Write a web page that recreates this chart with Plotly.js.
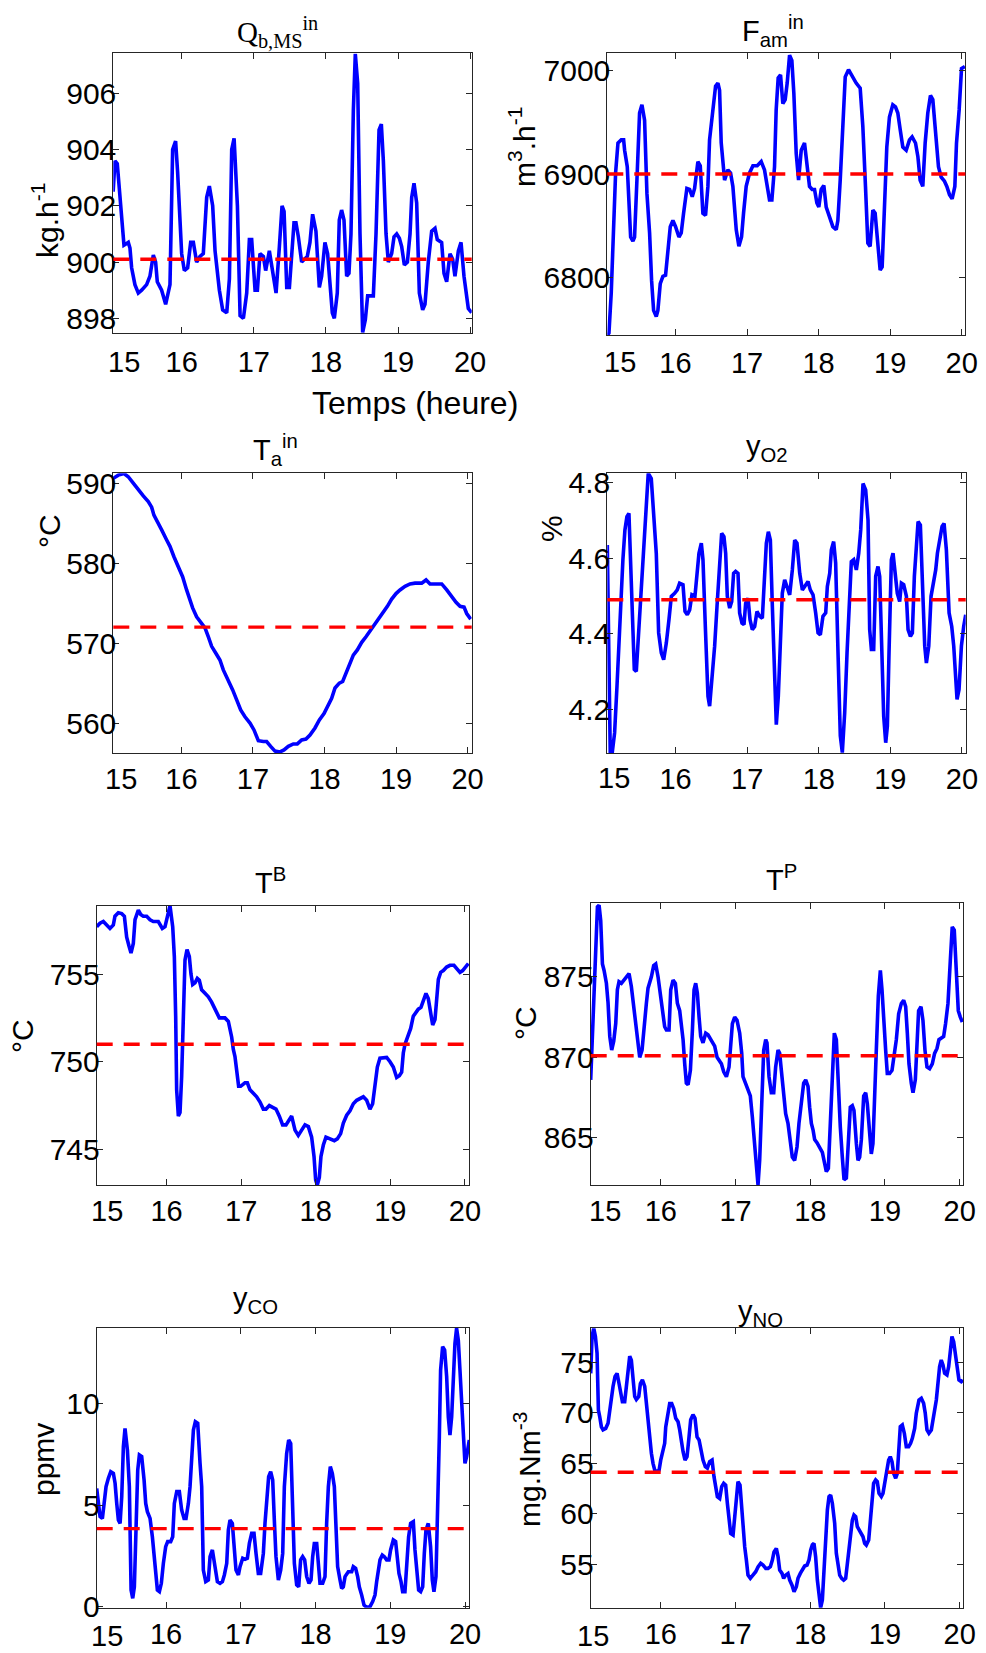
<!DOCTYPE html>
<html><head><meta charset="utf-8">
<script src="https://cdn.plot.ly/plotly-3.0.1.min.js"></script>
<style>html,body{margin:0;padding:0;background:#fff}#chart{width:986px;height:1653px}</style>
</head><body><div id="chart"></div>
<script>
// ---------- DATA (hours, values) ----------
const qbTime = [15.05,15.075,15.107,15.167,15.181,15.2,15.26,15.283,15.306,15.352,15.399,15.445,15.514,15.56,15.607,15.639,15.662,15.722,15.778,15.838,15.875,15.916,15.944,16.0,16.037,16.083,16.125,16.162,16.208,16.254,16.3,16.347,16.384,16.43,16.463,16.523,16.569,16.625,16.662,16.694,16.727,16.773,16.81,16.856,16.902,16.939,16.971,17.018,17.05,17.086,17.133,17.165,17.216,17.272,17.309,17.355,17.392,17.42,17.457,17.494,17.526,17.558,17.585,17.618,17.664,17.696,17.742,17.779,17.816,17.862,17.909,17.941,17.987,18.024,18.057,18.089,18.117,18.158,18.186,18.218,18.251,18.288,18.32,18.348,18.381,18.408,18.441,18.473,18.51,18.547,18.579,18.621,18.658,18.695,18.737,18.769,18.797,18.834,18.866,18.912,18.945,18.982,19.019,19.051,19.088,19.13,19.167,19.19,19.222,19.259,19.296,19.342,19.374,19.42,19.467,19.513,19.545,19.605,19.638,19.675,19.721,19.758,19.79,19.837,19.874,19.915,19.952,19.975,20.021];
const qbValue = [902.5,903.6,903.5,901.7,901.0,900.6,900.7,900.5,899.8,899.2,898.9,899.0,899.2,899.5,900.25,900.0,899.3,899.0,898.5,899.2,904.0,904.3,903.2,900.3,899.7,899.8,900.7,900.7,900.0,900.2,900.3,902.3,902.7,902.0,900.4,899.0,898.3,898.2,899.4,904.0,904.4,902.0,898.1,898.0,898.9,900.8,900.8,899.0,899.0,900.3,900.2,899.7,900.4,899.4,898.9,900.55,902.0,901.8,899.1,899.1,900.3,901.4,901.4,900.9,900.0,900.1,900.2,900.7,901.7,901.1,899.1,899.5,900.7,900.3,899.4,898.2,898.0,898.9,901.5,901.85,901.5,899.5,899.6,901.0,905.4,907.4,906.35,901.0,897.5,897.95,898.8,898.8,898.8,901.0,904.7,904.9,903.6,901.0,900.0,900.3,900.9,901.0,900.85,900.55,899.9,900.0,901.0,902.3,902.8,902.1,898.9,898.3,898.5,900.0,901.1,901.2,900.8,900.7,899.6,899.3,900.3,900.1,899.5,900.4,900.7,899.5,898.9,898.35,898.2];
const qbSetpoint = 900.1;

const famTime = [15.047,15.07,15.102,15.135,15.163,15.196,15.242,15.275,15.289,15.326,15.349,15.373,15.405,15.428,15.461,15.498,15.531,15.568,15.601,15.638,15.666,15.694,15.731,15.754,15.787,15.824,15.861,15.894,15.927,15.964,16.001,16.048,16.08,16.113,16.159,16.197,16.234,16.267,16.313,16.346,16.383,16.42,16.453,16.476,16.523,16.56,16.593,16.616,16.639,16.686,16.732,16.77,16.802,16.849,16.886,16.923,16.951,16.988,17.035,17.082,17.142,17.198,17.244,17.277,17.314,17.347,17.384,17.407,17.435,17.468,17.5,17.533,17.561,17.594,17.626,17.654,17.687,17.72,17.757,17.803,17.836,17.873,17.91,17.943,17.976,18.003,18.036,18.073,18.106,18.152,18.199,18.246,18.269,18.302,18.339,18.372,18.418,18.469,18.525,18.581,18.618,18.655,18.688,18.72,18.758,18.79,18.827,18.86,18.888,18.921,18.953,18.99,19.037,19.074,19.107,19.14,19.177,19.224,19.27,19.307,19.354,19.387,19.419,19.456,19.489,19.526,19.563,19.596,19.633,19.675,19.713,19.759,19.792,19.829,19.866,19.904,19.927,19.964,19.997,20.044];
const famValue = [6744,6746,6785,6843,6901,6930,6933,6933,6923,6907,6875,6839,6835,6839,6894,6959,6967,6952,6881,6843,6797,6768,6762,6768,6794,6801,6802,6823,6849,6855,6849,6839,6843,6862,6886,6885,6878,6886,6912,6908,6862,6860,6888,6933,6959,6985,6988,6981,6930,6894,6904,6901,6888,6846,6830,6839,6862,6888,6901,6908,6908,6912,6904,6891,6875,6875,6907,6962,6993,6996,6968,6972,6988,7015,7010,6978,6920,6894,6923,6930,6907,6888,6885,6885,6872,6868,6885,6889,6868,6859,6849,6846,6855,6894,6955,6994,7001,6994,6988,6983,6946,6888,6833,6830,6865,6862,6836,6807,6810,6862,6926,6955,6967,6965,6959,6943,6926,6923,6933,6936,6930,6917,6894,6888,6930,6959,6976,6972,6943,6907,6897,6893,6888,6880,6876,6888,6930,6962,7002,7004];
const famSetpoint = 6900;

const taTime = [15.047,15.117,15.196,15.256,15.326,15.396,15.466,15.536,15.583,15.615,15.662,15.723,15.793,15.839,15.895,15.956,16.016,16.072,16.119,16.156,16.212,16.282,16.329,16.375,16.422,16.483,16.538,16.585,16.655,16.716,16.772,16.828,16.888,16.958,17.014,17.075,17.145,17.191,17.247,17.308,17.378,17.434,17.494,17.564,17.62,17.681,17.741,17.797,17.867,17.928,17.993,18.054,18.1,18.147,18.207,18.254,18.301,18.357,18.403,18.459,18.52,18.58,18.646,18.706,18.767,18.823,18.879,18.939,19.0,19.056,19.126,19.196,19.266,19.359,19.42,19.476,19.545,19.639,19.709,19.779,19.839,19.895,19.951,19.988,20.044];
const taValue = [590.7,591.1,591.3,590.9,590.1,589.25,588.5,587.8,587.1,586.1,585.2,584.25,583.0,582.2,580.9,579.7,578.4,576.75,575.5,574.5,573.4,572.6,572.0,570.9,569.7,568.8,568.0,566.75,565.5,564.25,563.0,561.75,560.9,560.1,559.25,557.9,557.8,557.8,557.2,556.6,556.5,556.75,557.2,557.5,557.5,558.0,558.1,558.6,559.5,560.5,561.3,562.4,563.2,564.5,565.1,565.3,566.3,567.6,568.6,569.25,570.2,570.9,571.75,572.5,573.2,573.9,574.7,575.6,576.3,576.75,577.2,577.5,577.6,577.6,578.0,577.5,577.5,577.5,576.75,575.9,575.2,574.7,574.6,573.8,573.1];
const taSetpoint = 572.1;

const o2Time = [15.047,15.065,15.088,15.116,15.149,15.182,15.21,15.242,15.265,15.293,15.321,15.349,15.368,15.396,15.424,15.452,15.484,15.522,15.554,15.591,15.619,15.661,15.694,15.731,15.764,15.801,15.834,15.871,15.908,15.941,15.987,16.024,16.057,16.104,16.132,16.164,16.197,16.229,16.271,16.299,16.327,16.36,16.383,16.416,16.453,16.476,16.509,16.546,16.579,16.616,16.644,16.676,16.7,16.723,16.756,16.784,16.811,16.839,16.872,16.895,16.928,16.956,16.979,17.012,17.04,17.072,17.105,17.137,17.175,17.212,17.24,17.268,17.296,17.324,17.352,17.38,17.407,17.435,17.463,17.491,17.524,17.556,17.594,17.631,17.664,17.696,17.734,17.771,17.808,17.85,17.882,17.92,17.957,17.99,18.022,18.059,18.097,18.12,18.153,18.176,18.208,18.236,18.269,18.301,18.329,18.362,18.395,18.432,18.455,18.488,18.525,18.558,18.586,18.618,18.655,18.688,18.711,18.735,18.767,18.795,18.827,18.851,18.879,18.907,18.935,18.958,18.981,19.014,19.037,19.065,19.097,19.13,19.154,19.186,19.224,19.247,19.28,19.307,19.335,19.363,19.387,19.419,19.456,19.48,19.503,19.536,19.568,19.605,19.633,19.657,19.689,19.722,19.75,19.782,19.82,19.857,19.885,19.908,19.931,19.959,19.992,20.024,20.052];
const o2Value = [4.635,4.437,4.085,4.085,4.137,4.26,4.393,4.49,4.596,4.675,4.71,4.719,4.622,4.472,4.305,4.3,4.402,4.552,4.63,4.737,4.825,4.811,4.719,4.613,4.402,4.349,4.331,4.375,4.437,4.499,4.507,4.516,4.534,4.53,4.459,4.45,4.463,4.503,4.499,4.569,4.613,4.64,4.596,4.419,4.234,4.208,4.278,4.367,4.472,4.569,4.666,4.657,4.613,4.499,4.468,4.485,4.56,4.565,4.56,4.455,4.428,4.424,4.481,4.494,4.437,4.411,4.419,4.459,4.446,4.441,4.525,4.64,4.67,4.648,4.472,4.278,4.159,4.234,4.402,4.507,4.543,4.525,4.503,4.569,4.648,4.64,4.56,4.516,4.525,4.538,4.516,4.503,4.455,4.402,4.397,4.446,4.455,4.525,4.56,4.622,4.644,4.587,4.349,4.129,4.085,4.19,4.349,4.525,4.591,4.596,4.569,4.613,4.675,4.798,4.781,4.701,4.411,4.358,4.358,4.552,4.578,4.552,4.349,4.181,4.111,4.155,4.349,4.596,4.613,4.552,4.507,4.485,4.534,4.53,4.499,4.411,4.393,4.402,4.552,4.63,4.697,4.688,4.507,4.367,4.322,4.367,4.499,4.543,4.569,4.613,4.648,4.684,4.692,4.622,4.455,4.419,4.367,4.278,4.226,4.252,4.367,4.419,4.45];
const o2Setpoint = 4.49;

const tbTime = [15.063,15.107,15.152,15.197,15.241,15.286,15.308,15.353,15.398,15.434,15.465,15.496,15.523,15.554,15.577,15.621,15.653,15.688,15.733,15.778,15.822,15.889,15.943,15.979,16.014,16.046,16.082,16.104,16.122,16.135,16.158,16.18,16.202,16.225,16.247,16.274,16.305,16.327,16.35,16.381,16.412,16.439,16.47,16.515,16.56,16.604,16.64,16.672,16.707,16.739,16.783,16.828,16.873,16.895,16.917,16.94,16.966,16.993,17.02,17.051,17.083,17.118,17.163,17.208,17.253,17.297,17.333,17.378,17.422,17.467,17.512,17.556,17.601,17.632,17.677,17.722,17.766,17.811,17.856,17.901,17.945,17.977,17.999,18.021,18.048,18.07,18.102,18.137,18.191,18.249,18.289,18.334,18.37,18.415,18.459,18.504,18.549,18.593,18.638,18.683,18.727,18.763,18.794,18.826,18.861,18.906,18.951,18.996,19.04,19.085,19.121,19.152,19.174,19.197,19.228,19.273,19.308,19.344,19.375,19.411,19.442,19.478,19.509,19.541,19.568,19.599,19.621,19.644,19.675,19.711,19.755,19.8,19.853,19.898,19.934,19.97,20.015,20.046];
const tbValue = [757.7,757.9,758.0,757.8,757.6,757.8,758.3,758.5,758.45,758.3,757.1,756.6,756.2,756.75,758.1,758.65,758.4,758.3,758.3,758.1,758.0,758.0,757.6,757.7,758.4,758.9,757.7,756.0,752.6,748.4,746.9,747.1,749.15,753.5,755.8,756.4,756.0,755.0,754.4,754.5,754.75,754.65,754.1,753.9,753.7,753.4,753.1,752.85,752.5,752.5,752.5,752.3,751.4,750.7,750.3,749.5,748.6,748.6,748.7,748.8,748.8,748.4,748.2,748.0,747.7,747.3,747.3,747.5,747.4,747.3,746.9,746.4,746.4,746.6,746.9,746.1,745.8,746.1,746.4,746.3,745.7,744.6,743.25,742.97,743.4,744.6,745.25,745.7,745.6,745.5,745.6,745.9,746.5,746.95,747.2,747.6,747.8,747.9,748.0,747.8,747.3,747.6,748.6,749.7,750.2,750.25,750.25,750.0,749.7,749.1,749.2,749.4,750.5,751.0,751.4,751.9,752.6,752.8,753.0,753.1,753.5,753.9,753.6,752.85,752.1,752.4,753.5,754.7,755.1,755.2,755.4,755.5,755.5,755.3,755.1,755.2,755.4,755.6];
const tbSetpoint = 751.0;

const tpTime = [15.062,15.085,15.107,15.129,15.152,15.174,15.196,15.219,15.241,15.272,15.294,15.317,15.343,15.37,15.397,15.419,15.441,15.473,15.504,15.54,15.575,15.606,15.638,15.664,15.696,15.718,15.749,15.785,15.807,15.829,15.852,15.874,15.905,15.932,15.963,15.986,16.008,16.03,16.052,16.075,16.11,16.133,16.164,16.195,16.222,16.253,16.275,16.298,16.32,16.342,16.365,16.396,16.423,16.445,16.467,16.489,16.512,16.534,16.565,16.601,16.632,16.654,16.69,16.721,16.753,16.779,16.811,16.842,16.878,16.913,16.935,16.958,16.989,17.02,17.056,17.083,17.1,17.132,17.167,17.198,17.225,17.252,17.279,17.301,17.323,17.35,17.377,17.404,17.421,17.448,17.479,17.511,17.537,17.569,17.591,17.613,17.644,17.671,17.702,17.734,17.76,17.791,17.823,17.849,17.881,17.912,17.939,17.97,17.992,18.015,18.037,18.059,18.09,18.126,18.162,18.193,18.215,18.242,18.269,18.296,18.322,18.349,18.371,18.402,18.429,18.452,18.483,18.505,18.536,18.563,18.585,18.617,18.639,18.661,18.684,18.715,18.742,18.764,18.786,18.817,18.839,18.862,18.884,18.911,18.938,18.96,18.982,19.009,19.031,19.062,19.094,19.12,19.152,19.183,19.219,19.25,19.277,19.299,19.321,19.352,19.375,19.406,19.428,19.45,19.482,19.508,19.535,19.562,19.597,19.633,19.664,19.696,19.722,19.753,19.785,19.811,19.843,19.874,19.9,19.927,19.954,19.981,20.008,20.035];
const tpValue = [868.6,871.3,874.6,877.5,879.35,879.45,878.5,875.8,875.4,874.6,873.4,871.3,870.45,871.0,872.1,874.2,874.7,874.6,874.8,875.0,875.2,874.4,873.15,871.7,870.45,870.0,870.45,872.5,873.35,874.3,874.6,875.0,875.7,875.8,875.0,874.2,873.35,872.7,871.9,871.7,871.7,874.2,874.8,874.6,873.35,872.9,872.1,871.1,869.6,868.4,868.3,869.2,871.7,874.2,874.6,874.0,872.5,871.3,870.9,871.5,871.4,871.2,870.9,870.7,870.0,869.8,869.6,869.1,868.8,869.4,870.9,872.1,872.5,872.3,871.5,870.25,868.8,868.4,868.1,867.6,866.3,864.7,863.2,862.07,863.6,866.7,870.45,871.1,870.9,868.8,867.8,867.8,869.4,870.45,870.25,869.2,868.0,866.5,865.9,864.9,863.8,863.6,864.45,865.9,867.1,868.4,868.6,868.2,866.9,865.9,865.5,864.9,864.7,864.45,864.1,863.4,862.9,863.1,866.3,869.4,871.5,871.1,868.4,865.7,863.8,862.4,862.5,864.25,866.9,867.0,866.7,864.65,863.6,863.8,864.9,867.6,867.8,867.1,865.7,864.0,864.65,867.1,870.45,873.8,875.4,874.2,872.1,870.45,869.0,869.0,869.2,870.0,871.1,872.7,873.35,873.55,873.15,871.5,869.6,868.4,867.8,868.6,870.45,872.9,873.15,872.3,870.45,869.4,869.3,869.6,870.25,870.55,871.1,871.2,871.3,872.1,873.35,876.0,878.1,877.9,875.2,872.9,872.5,872.2];
const tpSetpoint = 870.1;

const coTime = [15.071,15.094,15.116,15.147,15.169,15.196,15.227,15.259,15.294,15.317,15.339,15.361,15.384,15.406,15.428,15.45,15.482,15.508,15.531,15.553,15.575,15.598,15.62,15.642,15.673,15.705,15.727,15.749,15.785,15.816,15.838,15.861,15.883,15.91,15.936,15.963,15.994,16.021,16.061,16.088,16.11,16.142,16.177,16.208,16.24,16.266,16.298,16.32,16.342,16.365,16.391,16.423,16.454,16.476,16.498,16.53,16.565,16.588,16.619,16.654,16.686,16.721,16.753,16.779,16.811,16.833,16.855,16.886,16.913,16.935,16.967,16.989,17.025,17.056,17.087,17.114,17.145,17.176,17.203,17.234,17.265,17.301,17.323,17.346,17.372,17.399,17.426,17.448,17.47,17.502,17.533,17.56,17.582,17.613,17.64,17.667,17.689,17.716,17.747,17.774,17.8,17.827,17.854,17.881,17.912,17.939,17.961,17.983,18.015,18.037,18.059,18.095,18.126,18.148,18.171,18.197,18.224,18.251,18.273,18.295,18.327,18.349,18.371,18.394,18.438,18.483,18.505,18.536,18.563,18.585,18.617,18.648,18.683,18.728,18.764,18.795,18.817,18.839,18.862,18.893,18.92,18.951,18.982,19.004,19.04,19.071,19.094,19.116,19.143,19.165,19.196,19.219,19.245,19.272,19.308,19.33,19.352,19.379,19.406,19.433,19.455,19.477,19.508,19.539,19.562,19.584,19.611,19.633,19.656,19.673,19.7,19.727,19.754,19.776,19.798,19.821,19.843,19.865,19.887,19.91,19.932,19.954,19.977,19.999,20.021,20.057];
const coValue = [5.82,5.08,4.43,4.34,5.08,5.9,6.31,6.64,6.56,6.07,5.08,4.26,4.1,5.41,7.87,8.77,7.7,5.9,0.82,0.41,0.98,4.26,6.72,7.46,7.38,6.23,5.08,4.67,4.34,3.44,2.62,1.8,0.82,0.74,1.15,2.13,2.95,3.2,3.2,3.44,5.08,5.66,5.66,4.75,4.34,4.34,5.08,5.9,7.05,8.69,9.1,9.02,7.05,5.9,1.8,1.23,1.31,2.46,2.79,1.8,1.23,1.15,1.23,1.56,2.13,3.77,4.26,4.1,2.95,1.8,1.56,1.97,2.38,2.33,2.38,3.11,3.61,3.61,2.62,1.64,1.64,2.62,4.1,5.08,6.39,6.64,6.23,4.26,2.46,1.31,1.8,2.62,5.9,7.54,8.2,8.03,5.08,2.13,1.07,0.98,2.3,2.46,2.3,1.48,1.15,1.31,2.46,3.11,3.11,2.13,1.15,1.15,1.48,4.1,5.9,6.89,6.56,5.9,3.61,1.97,1.31,0.9,0.98,1.48,1.72,1.72,1.97,1.89,1.48,0.98,0.57,0.08,-0.03,0.0,0.25,0.57,1.23,1.8,2.3,2.54,2.46,2.3,2.3,2.79,3.28,3.2,2.46,1.64,1.23,0.74,0.74,1.8,3.44,4.1,4.18,2.79,1.8,0.82,0.74,0.98,2.62,3.77,4.1,2.95,1.31,0.74,1.48,4.26,8.36,11.64,12.79,12.62,11.31,9.34,8.44,9.34,11.31,12.95,13.69,13.11,11.64,10.33,8.52,7.05,7.38,8.2];
const coSetpoint = 3.84;

const noTime = [15.062,15.08,15.103,15.125,15.147,15.165,15.183,15.205,15.227,15.263,15.294,15.317,15.339,15.361,15.388,15.415,15.441,15.464,15.486,15.517,15.54,15.562,15.584,15.606,15.629,15.651,15.673,15.705,15.727,15.754,15.785,15.807,15.829,15.852,15.874,15.896,15.919,15.95,15.977,15.999,16.03,16.052,16.066,16.097,16.119,16.146,16.173,16.2,16.231,16.253,16.275,16.298,16.324,16.351,16.378,16.4,16.431,16.458,16.485,16.512,16.539,16.565,16.596,16.623,16.654,16.686,16.712,16.735,16.757,16.788,16.815,16.842,16.868,16.891,16.913,16.935,16.967,16.989,17.011,17.033,17.06,17.083,17.1,17.123,17.145,17.167,17.198,17.234,17.27,17.301,17.337,17.368,17.404,17.435,17.466,17.493,17.515,17.546,17.569,17.591,17.622,17.644,17.671,17.702,17.725,17.756,17.783,17.814,17.836,17.867,17.894,17.925,17.957,17.983,18.006,18.028,18.05,18.072,18.095,18.117,18.139,18.162,18.184,18.206,18.229,18.251,18.273,18.296,18.327,18.349,18.371,18.394,18.42,18.447,18.474,18.496,18.518,18.541,18.563,18.585,18.608,18.63,18.652,18.675,18.706,18.728,18.75,18.782,18.804,18.826,18.848,18.875,18.897,18.92,18.951,18.973,18.996,19.027,19.049,19.071,19.094,19.116,19.143,19.165,19.187,19.205,19.232,19.259,19.285,19.317,19.343,19.366,19.397,19.419,19.455,19.486,19.517,19.539,19.562,19.588,19.62,19.642,19.664,19.687,19.709,19.731,19.753,19.776,19.798,19.829,19.852,19.874,19.896,19.919,19.945,19.968,19.99,20.021,20.044];
const noValue = [73.9,77.55,78.37,77.55,75.9,70.27,69.6,68.6,68.3,68.45,68.95,70.27,70.9,72.6,73.6,73.9,72.9,71.9,71.1,71.1,72.9,74.6,75.6,75.2,73.25,71.6,71.3,71.6,72.9,73.25,72.6,70.9,69.6,67.6,65.98,64.98,64.3,64.16,64.3,65.3,66.3,66.97,68.6,69.9,70.9,70.9,70.4,69.45,69.1,68.3,67.13,66.14,65.3,65.64,67.6,69.3,69.8,69.45,67.6,67.3,66.3,65.3,64.65,64.5,65.15,65.3,63.66,62.67,61.68,61.5,62.67,63.0,62.83,61.0,59.7,58.04,57.88,59.7,62.0,63.17,62.83,60.36,58.04,56.7,55.4,53.9,53.58,53.9,54.24,54.7,55.07,54.9,54.57,54.57,54.74,55.4,56.2,56.55,55.73,54.4,54.07,53.58,53.9,54.07,53.41,52.9,52.26,52.75,53.58,54.07,54.4,54.8,54.9,55.4,56.4,56.9,57.05,55.73,53.41,51.76,50.67,51.43,54.4,57.7,60.36,61.68,61.84,61.0,59.03,56.06,54.74,53.9,53.58,53.41,53.58,55.07,56.4,58.4,59.36,59.86,59.7,58.7,58.37,58.04,57.7,57.05,56.88,57.38,59.03,61.0,63.0,63.33,63.17,62.0,61.68,62.0,63.0,64.32,65.31,65.64,65.15,63.99,63.5,63.99,66.97,68.62,68.79,67.96,66.64,66.64,66.97,67.46,68.45,69.94,71.26,71.43,70.93,69.94,68.29,67.96,68.29,69.28,70.27,71.26,72.92,74.57,75.23,74.74,73.91,73.74,74.57,76.22,77.55,77.05,75.56,74.57,73.25,73.08,73.25];
const noSetpoint = 64.1;

const xTickVals = [16, 17, 18, 19, 20];
const firstTickText = '15';

// ---------- LAYOUT ----------
const W = 986, H = 1653;
const SANS = 'Liberation Sans, Arial, Helvetica, sans-serif';
const SERIF = 'Liberation Serif, Times New Roman, serif';
const AXC = '#262626';

const panels = [
  {t: qbTime, v: qbValue, sp: qbSetpoint, box: [113.3, 53.3, 471.7, 333.3], xr: [15.052, 20.022], yr: [897.47, 907.42], dtick: 2, xs: 3,
   title: 'Q<sub>b,MS</sub><sup>in</sup>', tfont: SERIF, tpos: [277, 32], ylab: 'kg.h<sup>-1</sup>', ypos: [45, 221], first: [15.2, 362]},
  {t: famTime, v: famValue, sp: famSetpoint, box: [607.3, 53.3, 965.3, 335], xr: [15.047, 20.05], yr: [6744.2, 7016.8], dtick: 100, xs: 2,
   title: 'F<sub>am</sub><sup>in</sup>', tfont: SANS, tpos: [773, 31], ylab: 'm<sup>3</sup>.h<sup>-1</sup>', ypos: [522, 147], first: [15.228, 362]},
  {t: taTime, v: taValue, sp: taSetpoint, box: [113.3, 473.3, 471.7, 753.3], xr: [15.047, 20.058], yr: [556.33, 591.33], dtick: 10, xs: 0,
   title: 'T<sub>a</sub><sup>in</sup>', tfont: SANS, tpos: [275, 450], ylab: '°C', ypos: [49, 531], first: [15.149, 779]},
  {t: o2Time, v: o2Value, sp: o2Setpoint, box: [607.3, 473.3, 965.7, 753.3], xr: [15.047, 20.052], yr: [4.083, 4.825], dtick: 0.2, fmt: '.1f', xs: 0,
   title: 'y<sub>O2</sub>', tfont: SANS, tpos: [767, 448], ylab: '%', ypos: [552, 529], first: [15.135, 778]},
  {t: tbTime, v: tbValue, sp: tbSetpoint, box: [96.7, 905.7, 469, 1185], xr: [15.063, 20.055], yr: [742.97, 758.9], dtick: 5, xs: 0,
   title: 'T<sup>B</sup>', tfont: SANS, tpos: [270, 881], ylab: '°C', ypos: [22, 1036], first: [15.206, 1211]},
  {t: tpTime, v: tpValue, sp: tpSetpoint, box: [590.7, 903.3, 963, 1185], xr: [15.062, 20.044], yr: [862.07, 879.57], dtick: 5, xs: 0,
   title: 'T<sup>P</sup>', tfont: SANS, tpos: [781, 878], ylab: '°C', ypos: [525, 1023], first: [15.25, 1211]},
  {t: coTime, v: coValue, sp: coSetpoint, box: [96.7, 1327.7, 469.3, 1607.7], xr: [15.071, 20.057], yr: [-0.05, 13.72], dtick: 5, xs: 0,
   title: 'y<sub>CO</sub>', tfont: SANS, tpos: [255, 1300], ylab: 'ppmv', ypos: [43, 1460], first: [15.214, 1636]},
  {t: noTime, v: noValue, sp: noSetpoint, box: [590.7, 1328.3, 963, 1607.7], xr: [15.062, 20.044], yr: [50.67, 78.37], dtick: 5, xs: 0,
   title: 'y<sub>NO</sub>', tfont: SANS, tpos: [760, 1313], ylab: 'mg.Nm<sup>-3</sup>', ypos: [527, 1470], first: [15.094, 1636]}
];

const px = x => x / W;
const py = y => 1 - y / H;

const data = [];
const layout = {
  width: W, height: H,
  margin: {l: 0, r: 0, t: 0, b: 0},
  paper_bgcolor: '#ffffff', plot_bgcolor: '#ffffff',
  showlegend: false,
  font: {family: SANS, color: '#000'},
  annotations: [], shapes: []
};

panels.forEach((p, i) => {
  const n = i + 1;
  const xa = 'x' + (n === 1 ? '' : n), ya = 'y' + (n === 1 ? '' : n);
  const xk = 'xaxis' + (n === 1 ? '' : n), yk = 'yaxis' + (n === 1 ? '' : n);
  const common = {
    ticks: 'inside', ticklen: 6, tickwidth: 1, tickcolor: AXC,
    showline: true, linecolor: AXC, linewidth: 1, mirror: 'ticks',
    showgrid: false, zeroline: false, fixedrange: true
  };
  layout[xk] = Object.assign({}, common, {
    domain: [px(p.box[0]), px(p.box[2])], range: p.xr, anchor: ya,
    tickmode: 'array', tickvals: xTickVals, ticklabelstandoff: p.xs,
    tickfont: {family: SANS, size: 29, color: '#000'}
  });
  layout[yk] = Object.assign({}, common, {
    domain: [py(p.box[3]), py(p.box[1])], range: p.yr, anchor: xa,
    tickmode: 'linear', tick0: 0, dtick: p.dtick, ticklabelstandoff: -10,
    tickformat: p.fmt || '',
    tickfont: {family: SANS, size: 30, color: '#000'}
  });
  data.push({
    type: 'scatter', mode: 'lines', x: p.t, y: p.v, xaxis: xa, yaxis: ya,
    line: {color: '#0000ff', width: 3.6}, hoverinfo: 'skip'
  });
  layout.shapes.push({
    type: 'line', xref: xa + ' domain', yref: ya, x0: 0, x1: 1, y0: p.sp, y1: p.sp,
    line: {color: '#ff0000', width: 3.4, dash: '16px,11px'}
  });
  layout.annotations.push({
    text: p.title, xref: 'paper', yref: 'paper', x: px(p.tpos[0]), y: py(p.tpos[1]),
    xanchor: 'center', yanchor: 'middle', showarrow: false,
    font: {family: p.tfont, size: 29, color: '#000'}
  });
  layout.annotations.push({
    text: p.ylab, xref: 'paper', yref: 'paper', x: px(p.ypos[0]), y: py(p.ypos[1]),
    xanchor: 'center', yanchor: 'middle', showarrow: false, textangle: -90,
    font: {family: SANS, size: 30, color: '#000'}
  });
  layout.annotations.push({
    text: firstTickText, xref: xa, yref: 'paper', x: p.first[0], y: py(p.first[1]),
    xanchor: 'center', yanchor: 'middle', showarrow: false,
    font: {family: SANS, size: 29, color: '#000'}
  });
});

layout.annotations.push({
  text: 'Temps (heure)', xref: 'paper', yref: 'paper', x: px(415), y: py(403),
  xanchor: 'center', yanchor: 'middle', showarrow: false,
  font: {family: SANS, size: 32, color: '#000'}
});

Plotly.newPlot('chart', data, layout, {displayModeBar: false, staticPlot: true});
</script></body></html>
